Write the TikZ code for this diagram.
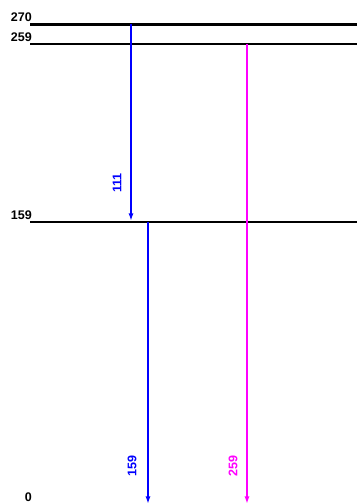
\documentclass[tikz,border=0pt]{standalone}
\usepackage{fontspec}
\setmainfont{Liberation Sans}
\usetikzlibrary{arrows.meta}

\definecolor{lineblue}{RGB}{0,0,255}
\definecolor{linemag}{RGB}{255,0,255}

\tikzset{
  lab/.style={font=\fontsize{12.5}{12.5}\selectfont\bfseries, inner sep=0pt},
  trans/.style={->, line width=1.2pt},
}

\begin{document}
\begin{tikzpicture}[>={Latex[length=7pt,width=5pt]}, x=1pt, y=1pt]
  \useasboundingbox (0,0) rectangle (357,504);

  % Parameters
  \def\xL{30}     % left end of the levels
  \def\xR{357}    % right end of the levels
  \def\k{1.78}    % height per keV
  \def\yo{-1}     % height of the 0 level

  % ---- Levels ----
  \foreach \E/\w in {270/2.6pt, 259/1.2pt, 159/1.2pt}{
    \coordinate (L\E) at (\xL,{\k*\E+\yo});
    \coordinate (R\E) at (\xR,{\k*\E+\yo});
    \draw[line width=\w] (L\E) -- (R\E);
    \node[lab, anchor=base east] (n\E) at ([xshift=2pt,yshift=2.5pt]L\E) {\E};
  }
  \coordinate (L0) at (\xL,2);
  \node[lab, anchor=base east] (n0) at ([xshift=2pt]L0) {0};

  % ---- Transitions ----
  \coordinate (a1) at (131,{\k*270+\yo});
  \coordinate (b1) at (131,{\k*159+\yo});
  \coordinate (a2) at (148,{\k*159+\yo});
  \coordinate (b2) at (148,0.5);
  \coordinate (a3) at (247,{\k*259+\yo});
  \coordinate (b3) at (247,0.5);

  \draw[trans, draw=lineblue, fill=lineblue, shorten >=1.5pt] (a1) -- (b1);
  \draw[trans, draw=lineblue, fill=lineblue] (a2) -- (b2);
  \draw[trans, draw=linemag, fill=linemag] (a3) -- (b3);

  % Energy labels
  \node[lab, text=lineblue, rotate=90] (t111) at (117,321) {111};
  \node[lab, text=lineblue, rotate=90] (t159) at (132,38) {159};
  \node[lab, text=linemag, rotate=90] (t259) at (233,38) {259};

\end{tikzpicture}
\end{document}
